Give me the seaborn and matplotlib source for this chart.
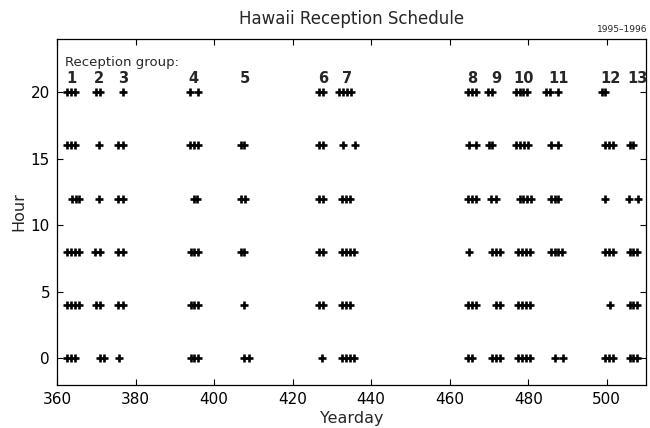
import matplotlib
matplotlib.use("Agg")
import matplotlib.pyplot as plt
import seaborn as sns
import pandas as pd

# ---- data (yeardays of receptions, by hour) ----
hours = [0, 4, 8, 12, 16, 20]
days_h0 = [362.6, 363.6, 364.6, 370.9, 371.9, 375.8, 394, 395, 396, 407.7, 408.8,
           427.6, 432.7, 433.7, 434.7, 435.7, 464.7, 465.7, 470.7, 471.7, 472.7,
           477.5, 478.5, 479.5, 480.5, 486.7, 488.8, 499.5, 500.5, 501.5,
           505.8, 506.8, 507.8]
days_h4 = [362.6, 363.6, 364.6, 365.6, 370, 370.9, 375.6, 376.7, 394, 395, 396, 407.7,
           426.6, 427.7, 432.7, 433.7, 434.7, 464.6, 465.6, 466.6, 471.8, 472.7,
           477.5, 478.5, 479.5, 480.5, 500.8, 505.8, 506.8, 507.8]
days_h8 = [362.6, 363.6, 364.6, 365.6, 369.8, 370.9, 375.6, 376.7, 394, 395, 396,
           406.8, 407.7, 426.6, 427.7, 432.7, 433.7, 434.7, 435.7, 464.8, 470.7,
           471.7, 472.7, 477.5, 478.5, 479.5, 480.5, 485.7, 486.7, 487.7, 488.7,
           499.5, 500.5, 501.5, 505.8, 506.8, 507.8]
days_h12 = [363.8, 364.8, 365.7, 370.7, 375.6, 376.7, 394.9, 395.7, 406.8, 407.8,
            426.6, 427.7, 432.7, 433.7, 434.7, 464.6, 465.6, 466.6, 470.6, 471.7,
            477.8, 478.8, 479.8, 480.8, 485.7, 486.7, 487.7, 499.5, 505.7, 507.9]
days_h16 = [362.6, 363.6, 364.6, 370.7, 375.6, 376.7, 393.9, 394.9, 395.9, 406.8,
            407.6, 426.6, 427.7, 432.8, 436, 464.8, 466.6, 470, 470.8, 477, 478,
            479, 480, 485.9, 487.6, 499.5, 500.5, 501.5, 505.8, 506.8]
days_h20 = [362.6, 363.6, 364.6, 370, 371, 376.7, 393.9, 396, 426.6, 427.7, 431.9,
            432.9, 433.9, 434.9, 464.6, 465.6, 466.6, 469.8, 470.7, 476.9, 477.8,
            478.8, 479.7, 484.6, 485.6, 487.7, 498.7, 499.5]

group_labels = ["1", "2", "3", "4", "5", "6", "7", "8", "9", "10", "11", "12", "13"]
group_days = [363.7, 370.7, 376.8, 394.8, 407.9, 427.8, 433.8, 465.8, 471.9,
              478.8, 487.8, 500.9, 507.9]

xticks = [360, 380, 400, 420, 440, 460, 480, 500]
yticks = [0, 5, 10, 15, 20]

# ---- build table ----
all_days = [days_h0, days_h4, days_h8, days_h12, days_h16, days_h20]
rows = []
for h, ds in zip(hours, all_days):
    for d in ds:
        rows.append({"Yearday": d, "Hour": h})
df = pd.DataFrame(rows)

# ---- style ----
sns.set_theme(style="ticks")
plt.rcParams["font.family"] = ["DejaVu Sans"]
plt.rcParams["xtick.direction"] = "in"
plt.rcParams["ytick.direction"] = "in"
plt.rcParams["xtick.top"] = True
plt.rcParams["ytick.right"] = True

fig = plt.figure(figsize=(6.5, 4.28), dpi=100)
ax = fig.add_axes([57 / 650, 1 - 385 / 428, (646 - 57) / 650, (385 - 39) / 428])

sns.scatterplot(data=df, x="Yearday", y="Hour", marker="+", color="black",
                s=40, linewidth=1.9, ax=ax, legend=False)

ax.set_xlim(360, 510)
ax.set_ylim(-2, 24)
ax.set_xticks(xticks)
ax.set_yticks(yticks)
ax.tick_params(axis="both", labelsize=11, length=4, width=0.8, colors="black", pad=5)
for sp in ax.spines.values():
    sp.set_visible(True)
    sp.set_color("black")
    sp.set_linewidth(0.9)

ax.set_xlabel("Yearday", fontsize=11.5, labelpad=3)
ax.set_ylabel("Hour", fontsize=11.5, labelpad=3)
ax.set_title("Hawaii Reception Schedule", fontsize=12, pad=11)

ax.text(0.0136, 0.933, "Reception group:", transform=ax.transAxes,
        fontsize=9.5, ha="left", va="center")
for lab, d in zip(group_labels, group_days):
    ax.text(d, 20.45, lab, fontsize=10.5, fontweight="bold", ha="center", va="bottom")

fig.text(647 / 650, 1 - 29 / 428, "1995\u20131996", fontsize=6.5, ha="right", va="center")

fig.savefig("out.png", dpi=100)
